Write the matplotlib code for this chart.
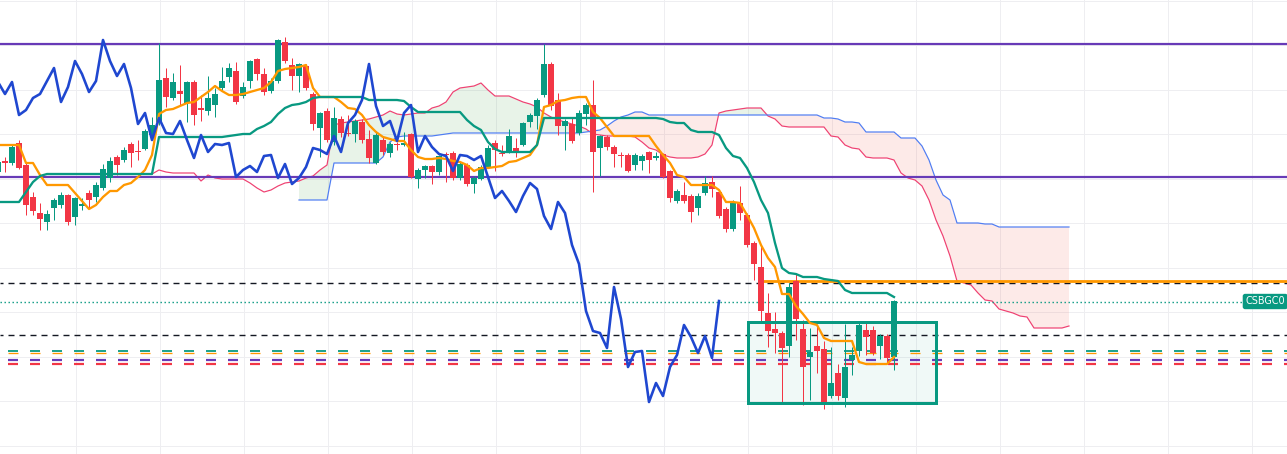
import numpy as np
import matplotlib
matplotlib.use("Agg")
import matplotlib.pyplot as plt
from matplotlib.patches import Rectangle

# ---------------- data (price units, bars indexed 0..128) ----------------
open_ = [328, 339, 337, 357, 335, 303, 287, 278, 292, 295,
         305, 283, 294, 307, 303, 312, 322, 343, 340, 356,
         349, 351, 365, 378, 422, 402, 409, 397, 418, 392,
         389, 395, 412, 423, 429, 404, 419, 441, 426, 409,
         419, 458, 435, 424, 434, 406, 372, 389, 358, 381,
         367, 366, 378, 361, 337, 360, 347, 356, 355, 366,
         321, 330, 334, 328, 346, 347, 322, 335, 316, 321,
         333, 357, 347, 348, 352, 355, 378, 384, 405, 436,
         400, 374, 376, 367, 386, 395, 352, 363, 353, 345,
         345, 335, 339, 348, 342, 346, 329, 299, 305, 304,
         292, 307, 318, 308, 291, 271, 297, 285, 257, 233,
         187, 171, 167, 154, 219, 171, 143, 154, 151, 104,
         127, 102, 140, 149, 170, 170, 154, 164, 143]
high_ = [340, 343, 355, 360, 337, 308, 297, 290, 302, 308,
         306, 303, 302, 310, 318, 336, 343, 345, 353, 358,
         360, 371, 383, 457, 432, 427, 435, 419, 420, 405,
         424, 412, 433, 437, 438, 418, 440, 442, 432, 422,
         461, 463, 442, 437, 436, 408, 388, 392, 393, 384,
         385, 381, 381, 370, 369, 363, 358, 358, 368, 367,
         332, 335, 335, 345, 348, 349, 338, 337, 324, 335,
         355, 360, 355, 371, 362, 378, 387, 402, 456, 438,
         407, 381, 382, 390, 397, 420, 365, 365, 355, 348,
         347, 347, 346, 349, 348, 347, 330, 311, 318, 306,
         307, 324, 324, 310, 293, 300, 314, 287, 259, 254,
         207, 188, 169, 217, 226, 180, 172, 175, 159, 153,
         136, 176, 153, 177, 179, 174, 166, 166, 200]
low_ = [325, 328, 335, 331, 285, 285, 270, 270, 280, 292,
        275, 275, 290, 292, 298, 310, 318, 325, 338, 333,
        340, 350, 362, 375, 393, 400, 395, 378, 375, 379,
        385, 383, 410, 418, 396, 402, 412, 420, 405, 407,
        417, 437, 410, 408, 410, 370, 343, 358, 355, 363,
        364, 358, 357, 337, 336, 345, 343, 350, 354, 322,
        312, 322, 316, 325, 318, 320, 320, 314, 307, 320,
        332, 329, 344, 347, 343, 354, 373, 371, 403, 390,
        365, 350, 357, 365, 375, 308, 324, 350, 333, 333,
        328, 330, 330, 327, 340, 322, 298, 297, 297, 278,
        285, 305, 303, 282, 268, 269, 280, 253, 220, 178,
        153, 147, 98, 143, 160, 95, 100, 127, 91, 102,
        100, 93, 125, 144, 145, 145, 141, 137, 130]
close_ = [338, 337, 353, 332, 295, 289, 281, 286, 300, 305,
          278, 302, 296, 300, 315, 331, 339, 335, 350, 347,
          348, 369, 375, 420, 403, 418, 406, 418, 385, 390,
          402, 406, 419, 432, 398, 413, 439, 426, 408, 419,
          460, 439, 424, 436, 412, 376, 387, 360, 382, 367,
          366, 379, 360, 342, 365, 348, 356, 355, 357, 323,
          330, 334, 328, 344, 345, 322, 336, 316, 322, 333,
          352, 350, 346, 364, 348, 377, 385, 400, 436, 394,
          374, 379, 359, 387, 395, 348, 364, 353, 346, 344,
          329, 345, 344, 340, 344, 323, 302, 309, 299, 288,
          304, 317, 311, 284, 271, 298, 287, 255, 236, 189,
          169, 167, 152, 213, 181, 133, 148, 149, 98, 117,
          104, 133, 145, 175, 163, 147, 164, 142, 199]

# Ichimoku: conversion (tenkan) and base (kijun) lines, bars 0..128
tenkan = [355, 355, 355, 355, 337, 337, 325, 315, 315, 315,
          315, 307, 299, 291, 295, 303, 309, 309, 315, 317,
          323, 330, 345, 386, 390, 391, 394, 397, 398, 403,
          408, 414, 409, 405, 405, 406, 408, 410, 412, 418,
          429, 431, 432, 433, 435, 412, 403, 403, 403, 398,
          392, 391, 385, 375, 368, 363, 361, 359, 359, 350,
          343, 341, 341, 342, 341, 339, 338, 335, 329, 332,
          332, 333, 334, 338, 339, 342, 345, 355, 393, 395,
          399, 400, 402, 403, 403, 388, 382, 373, 364, 364,
          364, 364, 364, 364, 354, 345, 337, 325, 323, 315,
          315, 315, 315, 310, 298, 298, 297, 285, 272, 255,
          242, 233, 206, 206, 194, 186, 177, 175, 162, 159,
          159, 159, 159, 138, 136, 136, 136, 136, 143]
kijun = [298, 298, 298, 298, 308, 318, 324, 326, 326, 326,
         326, 326, 326, 326, 326, 326, 326, 326, 326, 326,
         326, 326, 326, 363, 363, 363, 363, 363, 363, 363,
         363, 363, 363, 364, 365, 366, 366, 371, 374, 378,
         386, 392, 395, 396, 398, 402, 403, 403, 403, 403,
         403, 403, 403, 400, 400, 400, 400, 400, 399, 393,
         388, 388, 388, 388, 388, 388, 388, 380, 374, 370,
         358, 351, 348, 348, 348, 348, 348, 355, 382, 382,
         382, 382, 382, 382, 382, 382, 382, 382, 382, 382,
         382, 382, 382, 382, 382, 381, 378, 377, 377, 370,
         368, 368, 368, 365, 352, 344, 342, 332, 318, 300,
         287, 257, 232, 227, 226, 223, 223, 223, 221, 220,
         219, 210, 207, 207, 207, 207, 207, 207, 203]

# Leading span A, bars 17..153
SPAN_A_START = 17
senkou_a = [326, 326, 326, 326, 326, 326, 330, 328, 327, 327,
            327, 327, 319, 325, 322, 321, 321, 321, 321, 317,
            312, 308, 310, 314, 317, 318, 319, 322, 324, 330,
            335, 375, 377, 378, 379, 380, 381, 383, 385, 389,
            386, 385, 386, 387, 387, 392, 394, 398, 408, 412,
            413, 414, 417, 410, 404, 404, 404, 401, 398, 396,
            393, 387, 383, 380, 378, 376, 374, 371, 366, 365,
            364, 364, 364, 364, 363, 358, 352, 350, 345, 343,
            342, 342, 342, 343, 346, 355, 387, 389, 390, 391,
            392, 392, 392, 384, 381, 374, 373, 373, 373, 373,
            373, 373, 364, 363, 355, 352, 351, 343, 342, 342,
            342, 340, 327, 322, 320, 314, 300, 280, 264, 244,
            219, 217, 215, 207, 200, 199, 191, 189, 187, 184,
            183, 172, 172, 172, 172, 172, 174]
# Leading span B, bars 43..153
SPAN_B_START = 43
senkou_b = [300, 300, 300, 300, 300, 337, 337, 337, 337, 337,
            337, 337, 343, 358, 363, 364, 364, 364, 364, 364,
            365, 366, 367, 367, 367, 367, 367, 367, 367, 367,
            367, 367, 367, 367, 367, 367, 367, 367, 367, 367,
            367, 368, 369, 370, 374, 379, 383, 385, 388, 388,
            385, 385, 385, 385, 385, 385, 385, 385, 385, 385,
            385, 385, 385, 385, 385, 385, 385, 385, 385, 385,
            385, 385, 385, 385, 385, 382, 382, 381, 378, 378,
            377, 368, 368, 368, 368, 368, 362, 362, 362, 354,
            340, 320, 305, 300, 277, 277, 277, 277, 276, 276,
            273, 273, 273, 273, 273, 273, 273, 273, 273, 273,
            273]
LAG_SHIFT = 25

# Horizontal levels
purple_levels = [456, 323]
orange_level = 219
orange_level_start = 109.3
black_dashed_levels = [217.5, 165]
last_price = 198.5
teal_dashed, orange_dashed, purple_dashed, red_dashed = 148.6, 146.9, 140.0, 136.0
box_bars = (107.14, 134.0)
box_prices = (97, 178)
label_text = "CSBGC0"

# ---------------- styling ----------------
GREEN = "#089981"
RED = "#F23645"
ORANGE = "#FF9800"
PURPLE = "#673AB7"
CHIKOU = "#1F47D0"
SPAN_A_C = "#EF4172"
SPAN_B_C = "#4F7DF3"
GRID = "#EEEEF1"

plt.rcParams["lines.scale_dashes"] = False
PX = 0.72  # points per pixel at dpi 100

fig = plt.figure(figsize=(12.87, 4.54), dpi=100)
ax = fig.add_axes([0, 0, 1, 1])
ax.set_xlim(2 / 7, 1289 / 7)
ax.set_ylim(46, 500)
ax.axis("off")
fig.patch.set_facecolor("white")

# grid
for gx in np.arange(11.14, 185, 12):
    ax.axvline(gx, color=GRID, lw=1 * PX, zorder=0)
for gy in np.arange(54.2, 500, 44.5):
    ax.axhline(gy, color=GRID, lw=1 * PX, zorder=0)

n = len(close_)
idx = np.arange(n)
o = np.array(open_, float); h = np.array(high_, float)
l = np.array(low_, float); c = np.array(close_, float)

# cloud
sa = np.array(senkou_a, float)
sb = np.array(senkou_b, float)
xa = np.arange(SPAN_A_START, SPAN_A_START + len(sa))
xb = np.arange(SPAN_B_START, SPAN_B_START + len(sb))
sa_common = sa[SPAN_B_START - SPAN_A_START:]
ax.fill_between(xb, sa_common, sb, where=sa_common >= sb, interpolate=True,
                color="#43A047", alpha=0.12, lw=0, zorder=1)
ax.fill_between(xb, sa_common, sb, where=sa_common < sb, interpolate=True,
                color="#F44336", alpha=0.11, lw=0, zorder=1)
ax.plot(xa, sa, color=SPAN_A_C, lw=1.2 * PX, zorder=2)
ax.plot(xb, sb, color=SPAN_B_C, lw=1.2 * PX, zorder=2)

# rectangle zone
bx0, bx1 = box_bars
by0, by1 = box_prices
ax.add_patch(Rectangle((bx0, by0), bx1 - bx0, by1 - by0, facecolor=GREEN,
                       alpha=0.06, edgecolor="none", zorder=1.5))
ax.add_patch(Rectangle((bx0, by0), bx1 - bx0, by1 - by0, facecolor="none",
                       edgecolor=GREEN, lw=3 * PX, zorder=4.5))

# dashed / dotted horizontal levels
col_dash = (14 * PX, (10 * PX, 12 * PX))
ax.axhline(teal_dashed, color=GREEN, lw=1.8 * PX, ls=col_dash, zorder=2.5)
ax.axhline(orange_dashed, color=ORANGE, lw=1.3 * PX, ls=col_dash, zorder=2.4)
ax.axhline(purple_dashed, color=PURPLE, lw=2.2 * PX, ls=col_dash, zorder=2.5)
ax.axhline(red_dashed, color=RED, lw=2.2 * PX, ls=col_dash, zorder=2.5)
for lv in black_dashed_levels:
    ax.axhline(lv, color="#131722", lw=1.4 * PX, ls=(3 * PX, (6 * PX, 5 * PX)), zorder=2.6)
ax.hlines(last_price, 2 / 7, 178.0, color=GREEN, lw=1.4 * PX,
          linestyles=[(0, (1.4 * PX, 2.6 * PX))], zorder=2.6)

for lv in purple_levels:
    ax.axhline(lv, color=PURPLE, lw=2.2 * PX, zorder=3)
ax.hlines(orange_level, orange_level_start, 190, color=ORANGE, lw=2.8 * PX, zorder=3)

# candles
up = c >= o
cols = np.where(up, GREEN, RED)
ax.vlines(idx, l, h, colors=cols, lw=1 * PX, zorder=4)
body_lo = np.minimum(o, c)
body_h = np.maximum(np.abs(c - o), 1.3)
ax.bar(idx, body_h, bottom=body_lo, width=0.72, color=cols, edgecolor="none", zorder=4.2)

# ichimoku lines
ax.plot(idx, tenkan, color=ORANGE, lw=2.3 * PX, zorder=5)
ax.plot(idx, kijun, color=GREEN, lw=2.3 * PX, zorder=5)
ax.plot(idx[LAG_SHIFT:] - LAG_SHIFT, c[LAG_SHIFT:], color=CHIKOU, lw=2.6 * PX, zorder=5.5)

# price label
ax.text(178.2, last_price, label_text, color="white", fontsize=6.9, va="center", ha="left",
        family="DejaVu Sans", zorder=7,
        bbox=dict(boxstyle="round,pad=0.28,rounding_size=0.25", facecolor=GREEN,
                  edgecolor="none"))

fig.savefig("out.png", dpi=100, facecolor="white")
